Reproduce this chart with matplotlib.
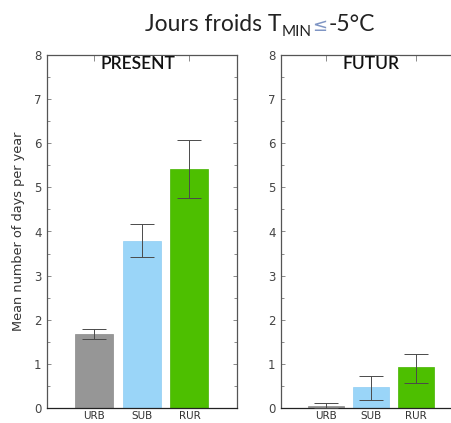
import matplotlib
matplotlib.use("Agg")
import matplotlib.pyplot as plt
import numpy as np

categories = ["URB", "SUB", "RUR"]
colors = ["#969696", "#9ad5f8", "#4dbf00"]
edge_colors = ["#8a8a8a", "#8fcdf3", "#46b400"]

present_mean = [1.68, 3.78, 5.42]
present_low = [1.57, 3.42, 4.75]
present_high = [1.80, 4.16, 6.07]

futur_mean = [0.04, 0.47, 0.94]
futur_low = [0.00, 0.19, 0.57]
futur_high = [0.11, 0.72, 1.23]

panel_titles = ["PRESENT", "FUTUR"]
ylabel = "Mean number of days per year"
yticks = [0, 1, 2, 3, 4, 5, 6, 7, 8]

W, H = 452, 423
fig = plt.figure(figsize=(W / 100, H / 100), dpi=100)

ax1 = fig.add_axes([47 / W, (H - 408) / H, 190 / W, 353 / H])
ax2 = fig.add_axes([281 / W, (H - 408) / H, 180 / W, 353 / H])

tickfont = "DejaVu Sans"
spine_col = "#555555"

for ax, means, lows, highs, title in [
    (ax1, present_mean, present_low, present_high, panel_titles[0]),
    (ax2, futur_mean, futur_low, futur_high, panel_titles[1]),
]:
    x = np.arange(1, len(categories) + 1)
    means = np.array(means)
    yerr = np.array([means - np.array(lows), np.array(highs) - means])
    ax.bar(x, means, width=0.8, color=colors, edgecolor=edge_colors, linewidth=0.5, zorder=2)
    ax.errorbar(x, means, yerr=yerr, fmt="none", ecolor="#4a4a4a", elinewidth=0.7,
                capsize=8.5, capthick=0.7, zorder=3)
    ax.set_xlim(0, 4)
    ax.set_ylim(0, 8)
    ax.set_yticks(yticks)
    ax.set_yticklabels([str(t) for t in yticks], fontsize=8.5, color="#444444",
                       fontfamily=tickfont)
    ax.set_yticks(np.arange(0.5, 8, 1), minor=True)
    ax.set_xticks(x)
    ax.set_xticklabels(categories, fontsize=7.5, color="#333333", fontfamily=tickfont)
    ax.tick_params(axis="y", which="both", direction="in", left=True, right=True,
                   length=3, width=0.6, color="#777777", pad=4)
    ax.tick_params(axis="y", which="minor", length=2)
    ax.tick_params(axis="x", which="both", direction="in", bottom=False, top=True,
                   length=4, width=0.6, color="#777777", pad=2.5)
    for s in ax.spines.values():
        s.set_color(spine_col)
        s.set_linewidth(0.9)
    ax.spines["bottom"].set_color("#222222")
    ax.text(1.92 if title == "PRESENT" else 2.0, 7.97, title, ha="center", va="top",
            fontsize=12.5, fontfamily="Lato", fontweight="semibold", color="#111111",
            zorder=5, clip_on=False,
            bbox=dict(facecolor="white", edgecolor="none", pad=0.3))

ax1.set_ylabel(ylabel, fontsize=9.3, color="#333333", fontfamily=tickfont)
ax1.yaxis.set_label_coords(-0.115, 0.5)

# Main title built from pieces
base_y = (H - 31) / H
t1 = fig.text(145 / W, base_y, "Jours froids T", fontsize=16.5, fontfamily="Lato",
              color="#222222", ha="left", va="baseline")
t2 = fig.text(0, 0, "MIN", fontsize=11, fontfamily="Lato", color="#222222")
t3 = fig.text(0, 0, "\u2264", fontsize=13, fontfamily="DejaVu Sans", color="#7f95c4")
t4 = fig.text(0, 0, "-5\u00b0C", fontsize=16.5, fontfamily="Lato", color="#222222")

fig.canvas.draw()
r = fig.canvas.get_renderer()
inv = fig.transFigure.inverted()

def right_edge(t):
    bb = t.get_window_extent(r)
    return inv.transform((bb.x1, bb.y0))[0]

t2.set_position((right_edge(t1), base_y - 5 / H))
t2.set_va("baseline")
fig.canvas.draw()
t3.set_position((right_edge(t2) + 1 / W, base_y))
t3.set_va("baseline")
fig.canvas.draw()
t4.set_position((right_edge(t3) + 1 / W, base_y))
t4.set_va("baseline")

fig.savefig("out.png", dpi=100)
